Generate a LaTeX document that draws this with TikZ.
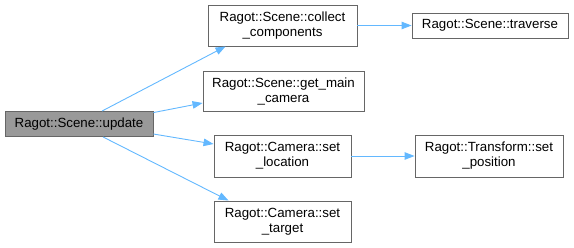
\documentclass[tikz,border=0pt]{standalone}
\usepackage{fontspec}
\setmainfont{Liberation Sans}
\usepackage{xcolor}
\usepackage{tikz}
\usetikzlibrary{positioning, arrows.meta}

\definecolor{edgeblue}{HTML}{63B8FF}
\definecolor{boxline}{HTML}{666666}
\definecolor{curfill}{HTML}{999999}

\begin{document}
\begin{tikzpicture}[
    x=1pt, y=-1pt,
    every node/.style={font=\fontsize{13.3}{15}\selectfont},
    fn/.style={draw=boxline, line width=0.9pt, fill=#1, align=center, inner sep=0pt},
    fn/.default=white,
    call/.style={-{Triangle[length=10pt, width=7.5pt]}, draw=edgeblue, line width=0.9pt},
  ]
  \useasboundingbox (0,0) rectangle (574,247);

  % ---- caller ----
  \node[fn=curfill, minimum width=148pt, minimum height=25pt] (update) at (79,124) {Ragot::Scene::update};

  % ---- direct callees ----
  \node[fn, minimum width=149pt, minimum height=41pt] (collect) at (282.5,25.5) {Ragot::Scene::collect\\\_components};
  \node[fn, minimum width=161pt, minimum height=40pt] (maincam) at (283.5,91) {Ragot::Scene::get\_main\\\_camera};
  \node[fn, minimum width=137pt, minimum height=42pt] (setloc) at (282.5,156) {Ragot::Camera::set\\\_location};
  \node[fn, minimum width=137pt, minimum height=41pt] (settarget) at (282.5,221.5) {Ragot::Camera::set\\\_target};

  % ---- second level ----
  \node[fn, minimum width=156pt, minimum height=25pt] (traverse) at (490,25.5) {Ragot::Scene::traverse};
  \node[fn, minimum width=148pt, minimum height=42pt] (setpos) at (489,156) {Ragot::Transform::set\\\_position};

  % ---- calls ----
  \draw[call] ([xshift=23pt]update.north) -- ([xshift=-57pt]collect.south);
  \draw[call] ([yshift=-1.5pt]update.north east) -- ([yshift=-12pt]maincam.west);
  \draw[call] ([yshift=-10pt]update.east) -- ([yshift=12pt]setloc.west);
  \draw[call] ([xshift=24pt]update.south) -- ([xshift=-54pt]settarget.north);
  \draw[call] (collect) -- (traverse);
  \draw[call] (setloc) -- (setpos);

\end{tikzpicture}
\end{document}
